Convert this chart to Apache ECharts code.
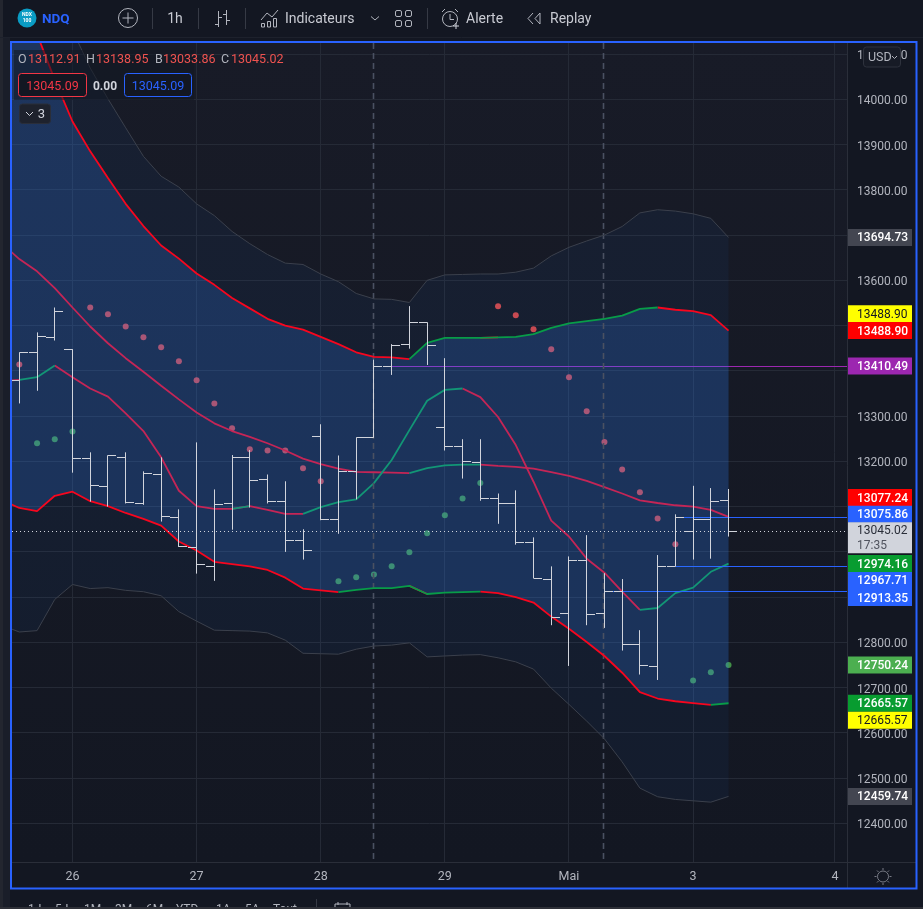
<!DOCTYPE html>
<html><head><meta charset="utf-8">
<style>html,body{margin:0;padding:0;background:#131722;overflow:hidden}#c{width:923px;height:909px}</style>
<script src="https://cdn.jsdelivr.net/npm/echarts@6/dist/echarts.min.js"></script>
</head><body><div id="c"></div>
<script>
// ---- data (prices) ----
const dayTicks = [3,10,17,24,31,38,46];
const dayLabels = ['26','27','28','29','Mai','3','4'];
const priceTicks = [12400,12500,12600,12700,12800,12900,13000,13100,13200,13300,13400,13500,13600,13700,13800,13900,14000,14100];
const priceLabels = [12400,12500,12600,12700,12800,13200,13300,13600,13800,13900,14000,14100];
// bars from index 0: open, high, low, close
const opens  = [13379,13441,13474,13448,13207,13145,13209,13107,13171,13076,13010,12968,13107,13209,13160,13112,13026,13255,13072,13178,13253,13410,13459,13507,13275,13233,13198,13118,13107,13021,12939,12864,12981,12864,12913,12796,12746,12968,13045,13072,13112.91];
const highs  = [13441,13485,13540,13448,13220,13213,13220,13178,13209,13094,13242,13138,13214,13225,13171,13156,13050,13282,13213,13253,13425,13459,13543,13507,13428,13249,13249,13129,13136,13032,12968,12990,13037,12953,12940,12827,12993,13083,13146,13141,13138.95];
const lows   = [13328,13356,13467,13175,13111,13100,13107,13104,13067,13011,12952,12936,13049,13098,13107,13000,12983,13070,13040,13116,13252,13391,13449,13413,13224,13162,13113,13062,13016,12942,12838,12748,12838,12832,12782,12729,12717,12968,12983,12985,13033.86];
const closes = [13441,13476,13532,13207,13147,13212,13110,13174,13079,13012,12973,13105,13209,13158,13112,13026,13003,13072,13178,13253,13410,13457,13507,13456,13233,13199,13118,13107,13021,12942,12855,12981,12862,12913,12796,12748,12968,13076,13072,13112,13045.02];
// indicator lines from index -1
const outerUpper = [14485,14396,14308,14230,14153,14069,14001,13937,13874,13830,13806,13769,13743,13708,13681,13657,13638,13635,13614,13597,13571,13559,13558,13551,13600,13612,13613,13614,13614,13618,13627,13654,13673,13687,13700,13719,13749,13756,13753,13747,13737,13694.73];
const upperBand  = [14353,14253,14144,14043,13951,13885,13826,13769,13720,13677,13648,13615,13590,13561,13538,13515,13500,13491,13475,13459,13441,13431,13430,13426,13462,13473,13473,13473,13474,13475,13481,13495,13505,13510,13515,13522,13537,13540,13535,13532,13523,13488.90];
const midLine    = [13682,13647,13620,13583,13540,13498,13461,13428,13398,13367,13337,13308,13284,13267,13254,13240,13224,13206,13194,13184,13177,13176,13175,13174,13185,13191,13193,13193,13190,13188,13184,13176,13168,13157,13143,13129,13114,13108,13103,13100,13093,13077.24];
const fastLine   = [13378,13380,13386,13412,13386,13361,13343,13306,13267,13209,13135,13101,13095,13095,13101,13093,13084,13084,13099,13110,13116,13152,13203,13269,13334,13358,13361,13342,13298,13236,13155,13069,13034,12985,12954,12912,12872,12876,12909,12921,12956,12974.16];
const lowerBand  = [13115,13097,13090,13124,13133,13112,13101,13086,13073,13058,13023,13003,12978,12973,12968,12960,12943,12919,12915,12911,12916,12920,12920,12925,12907,12910,12911,12912,12909,12900,12888,12857,12830,12801,12770,12733,12690,12676,12670,12666,12662,12665.57];
const outerLower = [12838,12823,12826,12895,12928,12919,12921,12915,12912,12903,12868,12847,12827,12826,12825,12821,12805,12776,12775,12774,12785,12792,12794,12799,12768,12770,12772,12773,12766,12757,12741,12699,12663,12626,12587,12536,12478,12459,12453,12450,12447,12459.74];
// bar-index spans where each line turns green
const upperGreen = [[22,26],[27,36]];
const midGreen   = [[22,26]];
const fastGreen  = [[0,2],[12,13],[16,25],[35,40]];
const lowerGreen = [[18,22],[23,26],[39,40]];
// parabolic dots from index 0
const sarValues = [13414,13240,13249,13266,13540,13525,13498,13474,13452,13421,13379,13328,13273,13227,13224,13224,13185,13156,12935,12944,12950,12968,12999,13041,13081,13118,13152,13543,13523,13492,13448,13386,13311,13243,13182,13132,13074,13017,12716,12734,12750.24];
const sarGreenSpans = [[1,3],[18,26],[38,40]];
const dashedBars = [20,33];
const levelPrices = [13410.49,13075.86,12967.71,12913.35];
const levelStarts = [21,37,37,33];
const levelColors = ['#9c27b0','#2962ff','#2962ff','#2962ff'];
const lastPrice = 13045.02;
// price tags: label and the price height at which the tag sits
const tagLabels = ['13694.73','13488.90','13488.90','13410.49','13077.24','13075.86','12974.16','12967.71','12913.35','12750.24','12665.57','12665.57','12459.74'];
const tagLevels = [13694.73,13526,13488.9,13410.49,13120,13083,12974.16,12937,12899,12750.24,12665.57,12628,12459.74];
const tagFills  = ['#434651','#ffff00','#ff0000','#9c27b0','#ff0000','#2962ff','#089c30','#2962ff','#2962ff','#4caf50','#089c30','#ffff00','#434651'];
const clockLevel = 13031;
const clockTexts = ['13045.02','17:35'];

// ---- helpers ----
const FF = 'Roboto';
const RED='#f7061e', GREEN='#089c48';
const pairs = a => a.map((v,k)=>[k-1,v]);
const inSpan = (i,sp) => sp.some(s=>s[0]<=i && i<s[1]);
function splitLine(values, spans, width, z){
  const n=values.length;
  const red=[], green=[];
  for(let k=0;k<n;k++){
    const i=k-1;
    const gPrev=k>0&&inSpan(i-1,spans), gNext=k<n-1&&inSpan(i,spans);
    const rPrev=k>0&&!inSpan(i-1,spans), rNext=k<n-1&&!inSpan(i,spans);
    red.push([i,(rPrev||rNext)?values[k]:null]);
    green.push([i,(gPrev||gNext)?values[k]:null]);
  }
  const mk=(d,c)=>({type:'line',data:d,z,showSymbol:false,connectNulls:false,lineStyle:{color:c,width},silent:true,animation:false});
  return [mk(red,RED),mk(green,GREEN)];
}
function deco(z,clip,build){
  return {type:'custom',z,clip,silent:true,animation:false,data:[[0,13000]],encode:{x:0,y:1},
    renderItem:(p,api)=>({type:'group',children:build(p,api)})};
}
const seg=(a,b,style)=>({type:'line',shape:{x1:a[0],y1:a[1],x2:b[0],y2:b[1]},style});
const crisp=v=>Math.round(v-0.5)+0.5;
function band(top,bottom,color,z){
  return deco(z,true,(p,api)=>{
    const pts=[];
    top.forEach((v,k)=>pts.push(api.coord([k-1,v])));
    for(let k=bottom.length-1;k>=0;k--) pts.push(api.coord([k-1,bottom[k]]));
    return [{type:'polygon',shape:{points:pts},style:{fill:color}}];
  });
}
const bars=opens.map((o,i)=>[i,o,highs[i],lows[i],closes[i]]);
const sarG=[],sarR=[];
sarValues.forEach((v,i)=>{ const g=sarGreenSpans.some(s=>s[0]<=i&&i<=s[1]); (g?sarG:sarR).push([i,v]); });

const series=[
  // grid
  deco(1,true,(p,api)=>{
    const cs=p.coordSys, out=[], st={stroke:'#252a36',lineWidth:1};
    priceTicks.forEach(v=>{const y=crisp(api.coord([0,v])[1]); out.push(seg([cs.x,y],[cs.x+cs.width,y],st));});
    dayTicks.forEach(v=>{const x=crisp(api.coord([v,13000])[0]); out.push(seg([x,cs.y],[x,cs.y+cs.height],st));});
    return out;
  }),
  {type:'scatter',data:sarR,z:2,symbolSize:6,itemStyle:{color:'#ff5252'},silent:true,animation:false},
  {type:'scatter',data:sarG,z:2,symbolSize:6,itemStyle:{color:'#4caf50'},silent:true,animation:false},
  ...splitLine(midLine,midGreen,1.8,3),
  ...splitLine(fastLine,fastGreen,1.8,3),
  deco(4,true,(p,api)=>{
    const cs=p.coordSys;
    return levelPrices.map((v,i)=>{const a=api.coord([levelStarts[i],v]);const y=crisp(a[1]);
      return seg([a[0],y],[cs.x+cs.width,y],{stroke:levelColors[i],lineWidth:1});});
  }),
  band(upperBand,lowerBand,'rgba(49,131,255,0.25)',5),
  band(outerUpper,upperBand,'rgba(49,131,255,0.05)',5),
  band(lowerBand,outerLower,'rgba(49,131,255,0.05)',5),
  {type:'line',data:pairs(outerUpper),z:6,showSymbol:false,lineStyle:{color:'#3b404c',width:1},silent:true,animation:false},
  {type:'line',data:pairs(outerLower),z:6,showSymbol:false,lineStyle:{color:'#3b404c',width:1},silent:true,animation:false},
  deco(6,true,(p,api)=>{
    const cs=p.coordSys;
    return dashedBars.map(v=>{const x=Math.round(api.coord([v,13000])[0])-0.5;
      return seg([x,cs.y],[x,cs.y+cs.height],{stroke:'#4a5162',lineWidth:1.6,lineDash:[6,4]});});
  }),
  ...splitLine(upperBand,upperGreen,1.8,7),
  ...splitLine(lowerBand,lowerGreen,1.8,7),
  // OHLC bars
  {type:'custom',z:8,silent:true,animation:false,clip:true,data:bars,encode:{x:0,y:[1,2,3,4]},
    renderItem:(p,api)=>{
      const i=api.value(0), st={stroke:'#d1d4dc',lineWidth:1};
      const o=api.coord([i,api.value(1)]),h=api.coord([i,api.value(2)]),l=api.coord([i,api.value(3)]),c=api.coord([i,api.value(4)]);
      const x=crisp(o[0]);
      return {type:'group',children:[
        seg([x,h[1]],[x,l[1]],st),
        seg([x-8.5,crisp(o[1])],[x,crisp(o[1])],st),
        seg([x,crisp(c[1])],[x+8.5,crisp(c[1])],st)
      ]};
    }},
  // last price dotted line
  deco(9,true,(p,api)=>{
    const cs=p.coordSys,y=crisp(api.coord([0,lastPrice])[1]);
    return [seg([cs.x,y],[cs.x+cs.width,y],{stroke:'#d1d4dc',lineWidth:1,lineDash:[1,3]})];
  }),
  // price tags
  deco(20,false,(p,api)=>{
    const cs=p.coordSys,x=cs.x+cs.width,out=[];
    tagLabels.forEach((t,i)=>{
      const y=api.coord([0,tagLevels[i]])[1], yellow=tagFills[i]==='#ffff00';
      out.push({type:'rect',shape:{x,y:y-8.5,width:65,height:17},style:{fill:tagFills[i]}});
      out.push({type:'text',style:{x:x+10,y:y+1,text:t,fill:yellow?'#131722':'#ffffff',fontFamily:FF,fontSize:12,fontWeight:yellow?400:500,verticalAlign:'middle'}});
    });
    const yc=api.coord([0,clockLevel])[1];
    out.push({type:'rect',shape:{x,y:yc-15.5,width:65,height:31},style:{fill:'#d1d4dc'}});
    out.push({type:'text',style:{x:x+10,y:yc-6.5,text:clockTexts[0],fill:'#2a2e39',fontFamily:FF,fontSize:12,verticalAlign:'middle'}});
    out.push({type:'text',style:{x:x+10,y:yc+8,text:clockTexts[1],fill:'#50535e',fontFamily:FF,fontSize:12,verticalAlign:'middle'}});
    return out;
  })
];

// ---- page furniture ----
const Z=100, TXT='#b2b5be';
const T=(text,x,y,o={})=>({type:'text',z:o.z||Z,x,y,style:{text,fill:o.fill||TXT,fontFamily:FF,fontSize:o.size||12,fontWeight:o.weight||400,align:o.align||'left',verticalAlign:'middle'}});
const L=(x1,y1,x2,y2,c=TXT,w=1,z=Z)=>({type:'line',z,shape:{x1,y1,x2,y2},style:{stroke:c,lineWidth:w}});
const R=(x,y,w,h,o={})=>({type:'rect',z:o.z||Z,shape:{x,y,width:w,height:h,r:o.r||0},style:{fill:o.fill||'none',stroke:o.stroke||'none',lineWidth:o.lw||1}});
const C=(cx,cy,r,o={})=>({type:'circle',z:o.z||Z,shape:{cx,cy,r},style:{fill:o.fill||'none',stroke:o.stroke||'none',lineWidth:o.lw||1}});
const P=(pts,c=TXT,w=1)=>({type:'polyline',z:Z,shape:{points:pts},style:{stroke:c,lineWidth:w,fill:'none'}});
const sep='#363a45';
const furniture=[
  // side and bottom strips
  R(0,0,3,909,{fill:'#23262f'}), R(3,38,7,870,{fill:'#1a1e29'}),
  R(0,907,923,2,{fill:'#2e3038',z:Z+5}),
  L(0,37.5,923,37.5,'#1d212c'),
  // toolbar
  C(27,18,9.5,{fill:'#0a9cc4'}),
  T('NDX',27,15,{fill:'#fff',size:5,align:'center',weight:700}), T('100',27,21,{fill:'#fff',size:5,align:'center',weight:700}),
  T('NDQ',42,19.5,{fill:'#2962ff',size:13.5,weight:700}),
  C(128,18,9.5,{stroke:TXT}), L(128,12.5,128,23.5), L(122.5,18,133.5,18),
  L(152.5,8,152.5,29,sep),
  T('1h',175,19.5,{size:14,align:'center',fill:'#c8cad2'}),
  L(198.5,8,198.5,29,sep),
  L(218.5,11,218.5,27), L(215,24.5,218.5,24.5), L(218.5,17.5,222,17.5),
  L(226.5,10,226.5,25), L(223,14.5,226.5,14.5), L(226.5,20.5,230,20.5),
  L(245.5,8,245.5,29,sep),
  P([[261,20],[267,13],[272,17],[278,10]]),
  R(261.5,23.5,3,3.5,{stroke:TXT}), R(267.5,21.5,3,5.5,{stroke:TXT}), R(273.5,18.5,3,8.5,{stroke:TXT}),
  T('Indicateurs',285,19.5,{size:14,fill:'#c8cad2'}),
  P([[371,16.5],[375,20],[379,16.5]]),
  R(395.5,10.5,6,6,{stroke:TXT,r:1.5}), R(405.5,10.5,6,6,{stroke:TXT,r:1.5}), R(395.5,20.5,6,6,{stroke:TXT,r:1.5}), R(405.5,20.5,6,6,{stroke:TXT,r:1.5}),
  L(427.5,8,427.5,29,sep),
  C(450,19,7.5,{stroke:TXT}), L(450,14,450,19.5), L(450,19.5,454,19.5), L(442,12,445,9), L(455,9,458,12),
  L(456,23,456,29,'#d1d4dc'), L(453,26,459,26,'#d1d4dc'),
  T('Alerte',466,19.5,{size:14,fill:'#c8cad2'}),
  P([[533,13],[528,18.5],[533,24]]), P([[540,13],[535,18.5],[540,24],[540,13]]),
  T('Replay',550,19.5,{size:14,fill:'#c8cad2'}),
  // legend
  R(14,50,180,50,{fill:'rgba(19,23,34,0.55)'}),
  T('O',18,59.5,{size:12.5}), T('13112.91',28,59.5,{size:12.5,fill:'#ef5350'}),
  T('H',86,59.5,{size:12.5}), T('13138.95',96,59.5,{size:12.5,fill:'#ef5350'}),
  T('B',155,59.5,{size:12.5}), T('13033.86',163,59.5,{size:12.5,fill:'#ef5350'}),
  T('C',221,59.5,{size:12.5}), T('13045.02',231,59.5,{size:12.5,fill:'#ef5350'}),
  R(18.5,73.5,68,23,{fill:'#131722',stroke:'#f23645',r:3}), T('13045.09',52.5,86.5,{size:12.5,fill:'#f23645',align:'center'}),
  T('0.00',105,86.5,{size:12,fill:'#d1d4dc',weight:700,align:'center'}),
  R(124.5,73.5,67,23,{fill:'#131722',stroke:'#2962ff',r:3}), T('13045.09',158,86.5,{size:12.5,fill:'#2962ff',align:'center'}),
  R(19.5,104,31,19.5,{fill:'#1e222d',stroke:'#2a2e39',r:3}), P([[26,112],[29.5,115.5],[33,112]],'#d1d4dc'), T('3',41.5,114.5,{size:13,align:'center',fill:'#d1d4dc'}),
  // axes frame
  L(847.5,43,847.5,888,'#2a2e39',1),
  L(12,862.5,916,862.5,'#2a2e39',1),
  R(863.5,47,37,20,{fill:'#171b26',stroke:'#2e323d',r:3}), T('USD',868,58,{size:12.5}), P([[892,56],[894.5,58.5],[897,56]]),
  C(883,876.5,5.5,{stroke:'#787b86'}),
  L(883,868,883,870,'#787b86'),L(883,883,883,885,'#787b86'),L(874.5,876.5,876.5,876.5,'#787b86'),L(889.5,876.5,891.5,876.5,'#787b86'),
  L(877,870.5,878.5,872,'#787b86'),L(887.5,881,889,882.5,'#787b86'),L(877,882.5,878.5,881,'#787b86'),L(887.5,872,889,870.5,'#787b86'),
  R(11,42,905.5,846.5,{stroke:'#2962ff',lw:2,z:Z+1}),
  // range bar, cut by the window edge
  T('1J',28,910,{size:12}),T('5J',55,910,{size:12}),T('1M',84,910,{size:12}),T('3M',115,910,{size:12}),T('6M',146,910,{size:12}),T('YTD',176,910,{size:12}),T('1A',216,910,{size:12}),T('5A',245,910,{size:12}),T('Tout',273,910,{size:12}),
  L(316.5,899,316.5,909,sep),
  R(335,904,15,8,{stroke:TXT}), L(338,902,338,905), L(347,902,347,905)
];

const chart=echarts.init(document.getElementById('c'),null,{renderer:'canvas'});
chart.setOption({
  animation:false,
  backgroundColor:'#131722',
  tooltip:{show:false},
  grid:{left:12,right:76,top:43,bottom:47,show:true,borderWidth:0,
    backgroundColor:{type:'linear',x:0,y:0,x2:0,y2:1,colorStops:[{offset:0,color:'#181b27'},{offset:1,color:'#131722'}]}},
  xAxis:{type:'value',min:-0.412,max:46.68,
    axisLine:{show:false},axisTick:{show:false},splitLine:{show:false},
    axisLabel:{customValues:dayTicks,margin:8,color:TXT,fontFamily:FF,fontSize:12.5,
      formatter:v=>dayLabels[dayTicks.indexOf(Math.round(v))]||''}},
  yAxis:{type:'value',position:'right',min:12314.8,max:14124.4,scale:true,
    axisLine:{show:false},axisTick:{show:false},splitLine:{show:false},
    axisLabel:{customValues:priceLabels,margin:10,formatter:v=>'{p|'+v.toFixed(2)+'}',
      rich:{p:{color:TXT,fontFamily:FF,fontSize:12,padding:[4,0,0,0]}}}},
  series,
  graphic:{elements:furniture}
});
</script></body></html>
